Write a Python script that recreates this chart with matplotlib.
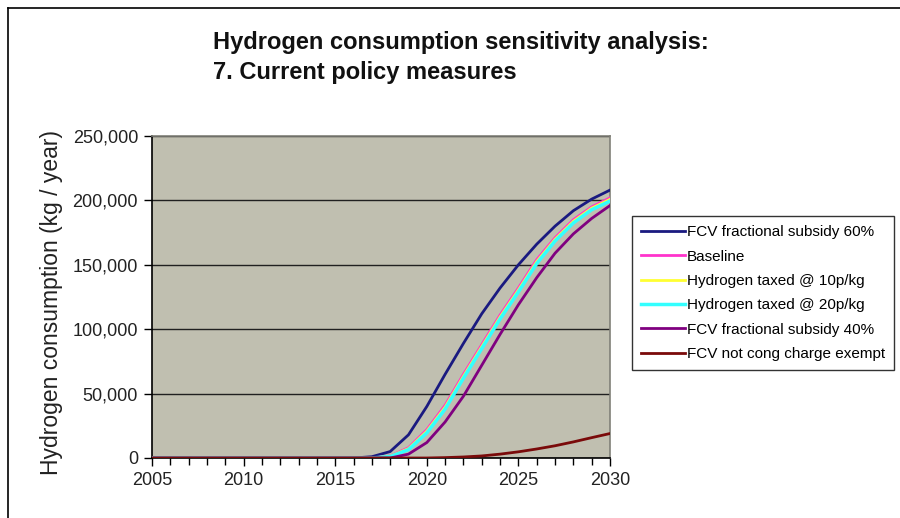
import matplotlib
matplotlib.use("Agg")
import matplotlib.pyplot as plt
from matplotlib.ticker import FuncFormatter, MultipleLocator
from matplotlib.lines import Line2D

plt.rcParams['font.family'] = ['Liberation Sans', 'DejaVu Sans']

years = list(range(2005, 2031))

subsidy60 = [0]*11 + [0, 1000, 5000, 18000, 40000, 65000, 89000, 112000, 132000,
                      150000, 166000, 180000, 192000, 201000, 208000]
baseline = [0]*12 + [0, 1500, 8000, 22000, 41000, 65000, 88000, 111000,
                      132000, 154000, 171000, 185000, 195000, 202000]
tax10 = [0]*12 + [0, 1300, 7300, 20800, 39500, 63500, 86500, 109500,
                   130500, 152500, 169800, 183800, 194000, 200800]
tax20 = [0]*12 + [0, 1100, 6500, 19500, 38000, 62000, 85000, 108000,
                   129000, 151000, 168500, 182500, 192800, 199500]
subsidy40 = [0]*13 + [0, 3000, 12000, 28000, 48000, 72000, 96000, 119000,
                       140000, 159000, 174000, 186000, 196000]
notexempt = [0]*15 + [0, 300, 800, 1600, 3000, 4800, 7000, 9500, 12500, 15800, 19000]

series = [
    ("FCV fractional subsidy 60%", subsidy60, "#1a1a80", 2.0),
    ("Baseline", baseline, "#ff33cc", 2.0),
    ("Hydrogen taxed @ 10p/kg", tax10, "#ffff33", 2.0),
    ("Hydrogen taxed @ 20p/kg", tax20, "#33ffff", 2.5),
    ("FCV fractional subsidy 40%", subsidy40, "#800080", 2.0),
    ("FCV not cong charge exempt", notexempt, "#7a0a0a", 2.0),
]

fig = plt.figure(figsize=(9, 5.18), dpi=100)
fig.patch.set_facecolor('white')

# outer chart border (top and left visible)
fig.add_artist(Line2D([8/900, 8/900], [0, 1 - 8/518], transform=fig.transFigure,
                      color='black', lw=1.2))
fig.add_artist(Line2D([8/900, 1], [1 - 8/518, 1 - 8/518], transform=fig.transFigure,
                      color='black', lw=1.2))

ax = fig.add_axes([152/900, 1 - 458/518, (610 - 152)/900, (458 - 136)/518])
ax.set_facecolor('#c0bfb0')

handles = []
for name, vals, col, lw in series:
    h, = ax.plot(years, vals, color=col, lw=lw, label=name, zorder=3)
    handles.append(h)

ax.set_xlim(2005, 2030)
ax.set_ylim(0, 250000)
ax.xaxis.set_major_locator(MultipleLocator(5))
ax.xaxis.set_minor_locator(MultipleLocator(1))
ax.yaxis.set_major_locator(MultipleLocator(50000))
ax.yaxis.set_major_formatter(FuncFormatter(lambda v, p: f"{int(v):,}"))
ax.grid(axis='y', color='#202020', lw=1.0, zorder=1)
ax.set_axisbelow(True)

ax.tick_params(axis='both', which='major', direction='out', length=6, width=1,
               labelsize=13, colors='black', pad=4)
ax.tick_params(axis='x', which='minor', direction='out', length=5, width=1)
for lbl in ax.get_xticklabels() + ax.get_yticklabels():
    lbl.set_color('#222222')

ax.spines['left'].set_color('black')
ax.spines['bottom'].set_color('black')
ax.spines['top'].set_color('#808078')
ax.spines['right'].set_color('#808078')
for s in ax.spines.values():
    s.set_linewidth(1.2)

ax.set_ylabel("Hydrogen consumption (kg / year)", fontsize=16.5, color='#222222')
ax.yaxis.set_label_coords(-89/458, 0.484)

fig.text(213/900, 1 - 31/518,
         "Hydrogen consumption sensitivity analysis:\n7. Current policy measures",
         ha='left', va='top', fontsize=17, fontweight='bold', color='#111111',
         linespacing=1.4)

leg = fig.legend(handles=handles, loc='upper left',
                 bbox_to_anchor=(632/900, 1 - 216/518), fontsize=11,
                 frameon=True, fancybox=False, edgecolor='black',
                 handlelength=2.9, handletextpad=0.1, borderpad=0.6,
                 labelspacing=0.68, borderaxespad=0)
leg.get_frame().set_linewidth(1.0)

fig.savefig("out.png", dpi=100)
